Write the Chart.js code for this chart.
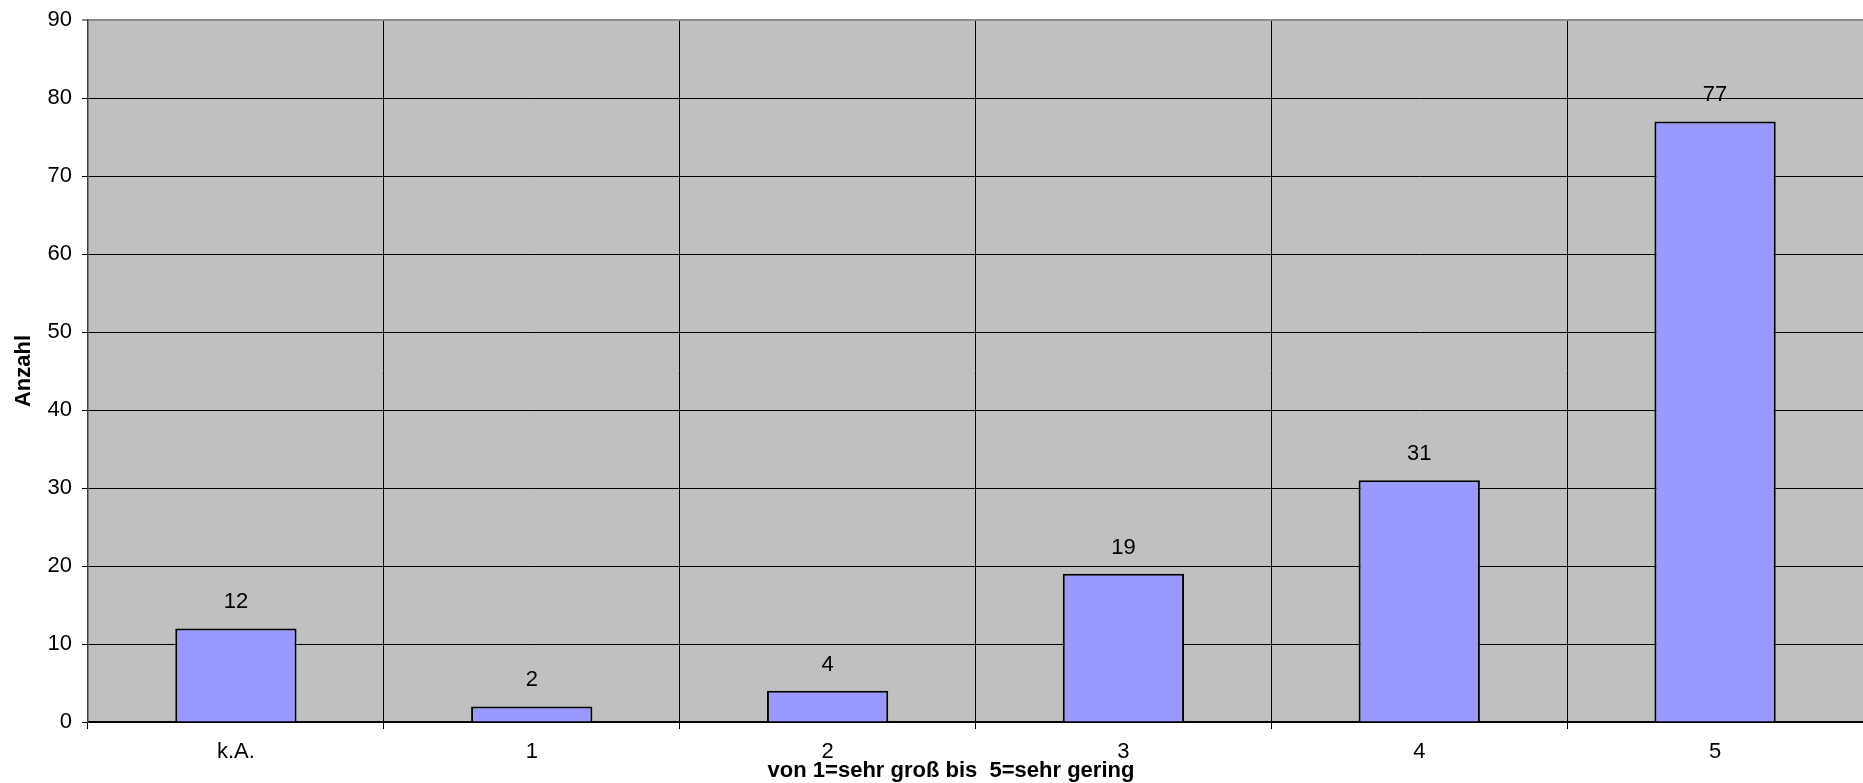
<!DOCTYPE html>
<html>
<head>
<meta charset="utf-8">
<script src="https://cdn.jsdelivr.net/npm/chart.js@4"></script>
<style>
  html, body { margin: 0; padding: 0; background: #fff; }
  #wrap { width: 1863px; height: 783px; }
</style>
</head>
<body>
<div id="wrap"><canvas id="myChart"></canvas></div>
<script>
const categories = ['k.A.', '1', '2', '3', '4', '5'];
const counts = [12, 2, 4, 19, 31, 77];
const yTitle = 'Anzahl';
const xTitle = 'von 1=sehr groß bis  5=sehr gering';

const FONT = "'Liberation Sans', Arial, sans-serif";

// grey plot area behind the bars
const plotBackground = {
    id: 'plotBackground',
    beforeDraw: (chart) => {
        const { ctx, chartArea: a } = chart;
        ctx.save();
        ctx.fillStyle = '#c0c0c0';
        ctx.fillRect(a.left, a.top, a.right - a.left, a.bottom - a.top);
        ctx.restore();
    },
};

// value above each bar, plus the x title (sits a bit left of the axis centre)
const valueLabels = {
    id: 'valueLabels',
    afterDatasetsDraw: (chart) => {
        const { ctx } = chart;
        const meta = chart.getDatasetMeta(0);
        ctx.save();
        ctx.font = '22px ' + FONT;
        ctx.fillStyle = '#000';
        ctx.textAlign = 'center';
        ctx.textBaseline = 'middle';
        meta.data.forEach((bar, i) => {
            ctx.fillText(String(counts[i]), bar.x, bar.y - 26);
        });
        ctx.font = 'bold 22px ' + FONT;
        ctx.fillText(xTitle, 951, 771);
        ctx.restore();
    },
};

const ctx = document.getElementById('myChart').getContext('2d');

const data = {
    labels: categories,
    datasets: [
        {
            data: counts,
            backgroundColor: '#9999ff',
            borderColor: '#000000',
            borderWidth: 2,
            categoryPercentage: 1,
            barPercentage: 0.41,
        },
    ],
};

const config = {
    type: 'bar',
    data: data,
    options: {
        responsive: true,
        maintainAspectRatio: false,
        animation: false,
        layout: {
            padding: { top: 20, right: 0, bottom: 0, left: 0 },
        },
        plugins: {
            legend: { display: false },
            tooltip: { enabled: false },
        },
        scales: {
            x: {
                afterFit: (s) => {
                    s.height = 61;
                    s.paddingLeft = 0;
                    s.paddingRight = 0;
                },
                grid: {
                    color: '#000',
                    lineWidth: 1,
                    tickLength: 7,
                },
                border: { color: '#000', width: 1.5 },
                ticks: {
                    color: '#000',
                    font: { family: FONT, size: 22 },
                    padding: 10,
                },
            },
            y: {
                min: 0,
                max: 90,
                afterFit: (s) => {
                    s.width = 88;
                    s.paddingTop = 0;
                    s.paddingBottom = 0;
                },
                grid: {
                    color: (c) => (c.tick && c.tick.value === 90 ? '#8c8c8c' : '#000'),
                    lineWidth: (c) => (c.tick && c.tick.value === 90 ? 2 : 1),
                    tickLength: 6,
                },
                border: { color: '#404040', width: 1.5 },
                ticks: {
                    stepSize: 10,
                    color: '#000',
                    font: { family: FONT, size: 22 },
                    padding: 10,
                },
                title: {
                    display: true,
                    text: yTitle,
                    color: '#000',
                    font: { family: FONT, size: 22, weight: 'bold' },
                    padding: { top: 11, bottom: 0 },
                },
            },
        },
    },
    plugins: [plotBackground, valueLabels],
};

new Chart(ctx, config);
</script>
</body>
</html>
